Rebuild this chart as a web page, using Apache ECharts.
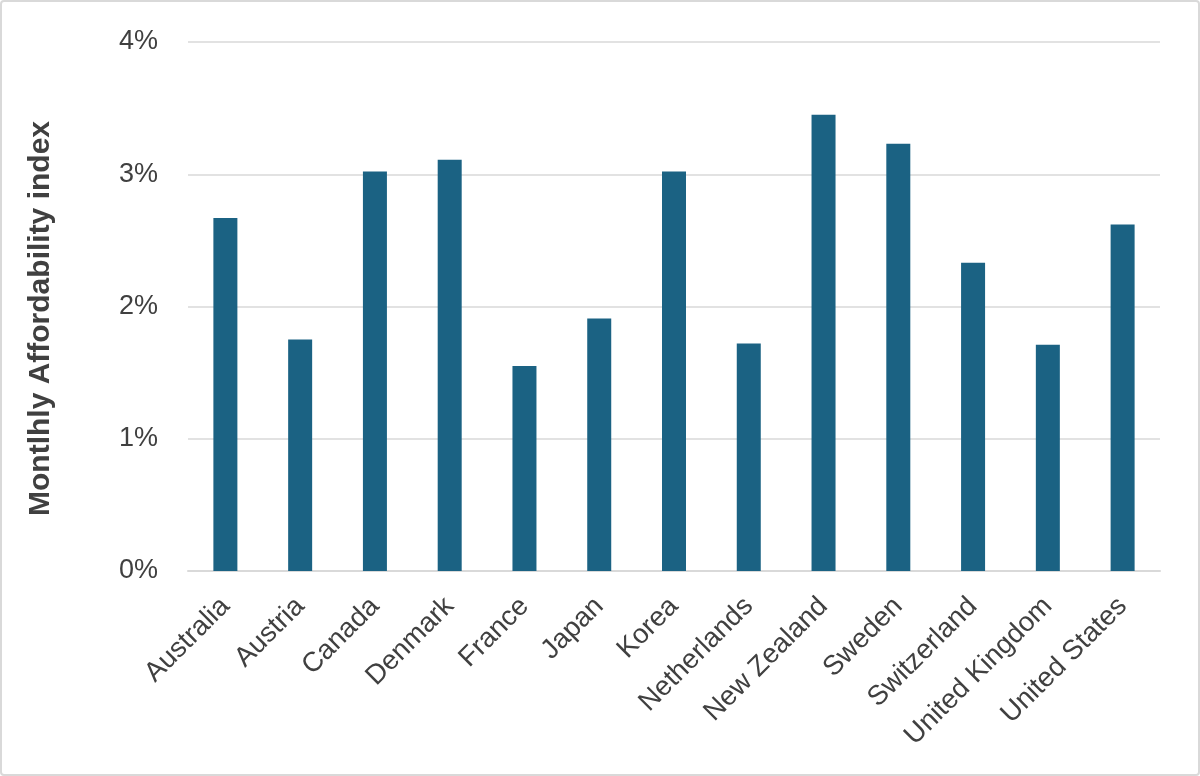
<!DOCTYPE html>
<html><head><meta charset="utf-8">
<script src="https://cdn.jsdelivr.net/npm/echarts@6/dist/echarts.min.js"></script>
<style>
html,body{margin:0;padding:0;background:#fff;}
#c{width:1200px;height:776px;box-sizing:border-box;border:2px solid #d9d9d9;border-radius:4px;}
</style></head>
<body><div id="c"></div>
<script>
const categories = ['Australia','Austria','Canada','Denmark','France','Japan','Korea','Netherlands','New Zealand','Sweden','Switzerland','United Kingdom','United States'];
const values = [0.0267,0.0175,0.0302,0.0311,0.0155,0.0191,0.0302,0.0172,0.0345,0.0323,0.0233,0.0171,0.0262];
const yAxisName = 'Montlhly Affordability index';

const chart = echarts.init(document.getElementById('c'), null, {renderer:'canvas'});
chart.setOption({
  animation:false,
  grid:{left:186,right:38,top:40,bottom:203},
  xAxis:{
    type:'category', data:categories,
    axisLine:{lineStyle:{color:'#d9d9d9',width:2}},
    axisTick:{show:false},
    axisLabel:{rotate:45,interval:0,fontSize:27.5,color:'#404040',fontFamily:'Liberation Sans',margin:31}
  },
  yAxis:{
    type:'value', min:0, max:0.04, interval:0.01,
    name:yAxisName, nameLocation:'middle', nameGap:132,
    nameTextStyle:{fontSize:30,fontWeight:'bold',color:'#404040',fontFamily:'Liberation Sans',padding:[0,24,0,0]},
    axisLine:{show:false}, axisTick:{show:false},
    splitLine:{lineStyle:{color:'#d9d9d9',width:1.5}},
    axisLabel:{fontSize:27,color:'#404040',fontFamily:'Liberation Sans',margin:30,
      formatter:v=>Math.round(v*100)+'%'}
  },
  series:[{type:'bar',data:values,barWidth:24,itemStyle:{color:'#1b6283'}}]
});
</script></body></html>
